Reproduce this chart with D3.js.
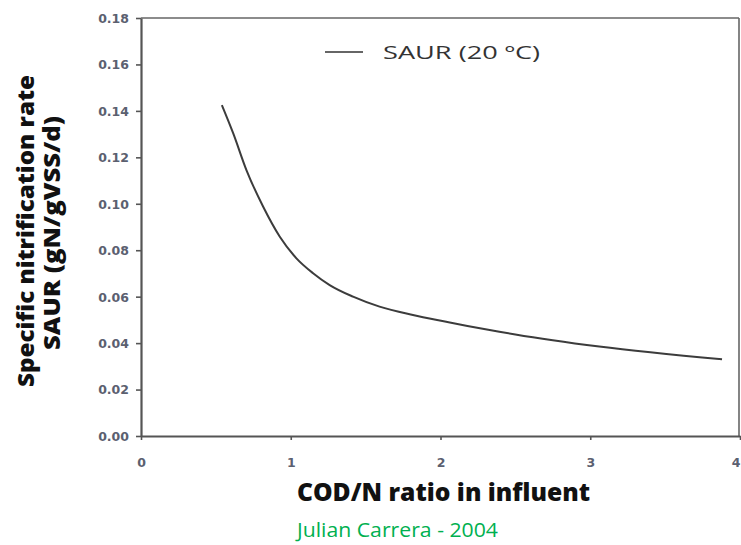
<!DOCTYPE html>
<html><head><meta charset="utf-8">
<script src="https://cdn.jsdelivr.net/npm/d3@7"></script>
<style>body{margin:0;background:#fff}svg{display:block}</style>
</head><body>
<script>
const codN = [0.54, 0.616, 0.704, 0.816, 0.927, 1.038, 1.149, 1.26, 1.416, 1.593, 1.816, 2.038, 2.18, 2.393, 2.50, 3.06, 3.88];
const saur = [0.1425, 0.1303, 0.1145, 0.0987, 0.0858, 0.0765, 0.0701, 0.065, 0.060, 0.0557, 0.0521, 0.0492, 0.0474, 0.0449, 0.0437, 0.0385, 0.033];
const xTicks = [0, 1, 2, 3, 4];
const yTicks = [0, 0.02, 0.04, 0.06, 0.08, 0.10, 0.12, 0.14, 0.16, 0.18];
const seriesName = "SAUR (20 ºC)";
const xTitle = "COD/N ratio in influent";
const yTitle = ["Specific nitrification rate", "SAUR (gN/gVSS/d)"];
const credit = "Julian Carrera - 2004";

const W = 741, H = 545;
const svg = d3.select("body").append("svg").attr("width", W).attr("height", H);
const x = d3.scaleLinear().domain([0, 4]).range([141, 740]);
const y = d3.scaleLinear().domain([0, 0.18]).range([436, 18]);

// frame top/right
svg.append("line").attr("x1", x(0)).attr("x2", 739).attr("y1", y(0.18)).attr("y2", y(0.18))
  .attr("stroke", "#666").attr("stroke-width", 1.6);
svg.append("line").attr("x1", 739).attr("x2", 739).attr("y1", y(0.18)).attr("y2", y(0))
  .attr("stroke", "#666").attr("stroke-width", 1.6);

const xa = svg.append("g").attr("transform", `translate(0,${y(0)})`)
  .call(d3.axisBottom(x).tickValues(xTicks).tickFormat(d3.format("d")).tickSize(4).tickSizeOuter(0));
const ya = svg.append("g").attr("transform", `translate(${x(0)},0)`)
  .call(d3.axisLeft(y).tickValues(yTicks).tickFormat(d3.format(".2f")).tickSize(5).tickSizeOuter(0));
[xa, ya].forEach(a => {
  a.select(".domain").attr("stroke", "#555").attr("stroke-width", 2.2);
  a.selectAll(".tick line").attr("stroke", "#555").attr("stroke-width", 1.6);
  a.selectAll("text").attr("fill", "#5b6070").style("font-family", "'DejaVu Sans', sans-serif")
    .style("font-size", "12.5px").style("font-weight", "bold");
});
xa.selectAll("text").attr("dy", "0").attr("y", 31);
xa.selectAll(".tick").filter(d => d === 4).select("text").attr("text-anchor", "end").attr("dx", 0);
ya.selectAll("text").attr("x", -12).attr("dy", "0.35em");

// curve
svg.append("path").datum(codN.map((c, i) => [c, saur[i]]))
  .attr("fill", "none").attr("stroke", "#3c3c3c").attr("stroke-width", 2)
  .attr("d", d3.line().x(d => x(d[0])).y(d => y(d[1])).curve(d3.curveMonotoneX));

// legend
svg.append("line").attr("x1", 325).attr("x2", 363).attr("y1", 52).attr("y2", 52)
  .attr("stroke", "#666").attr("stroke-width", 2);
svg.append("text").attr("x", 383).attr("y", 59).text(seriesName)
  .attr("fill", "#333").style("font-family", "'Open Sans', sans-serif").style("font-size", "18px")
  .attr("textLength", 157).attr("lengthAdjust", "spacingAndGlyphs");

// x title
svg.append("text").attr("x", 297).attr("y", 501).text(xTitle)
  .attr("fill", "#111").style("font-family", "'Open Sans', sans-serif").style("font-weight", "800")
  .style("font-size", "24px").attr("textLength", 293).attr("lengthAdjust", "spacingAndGlyphs");

// y title
const yt = svg.append("g");
yt.append("text").attr("transform", "translate(34,387) rotate(-90)").text(yTitle[0])
  .attr("fill", "#111").style("font-family", "'Open Sans', sans-serif").style("font-weight", "800")
  .style("font-size", "22px").attr("textLength", 312).attr("lengthAdjust", "spacingAndGlyphs");
yt.append("text").attr("transform", "translate(60,350) rotate(-90)").text(yTitle[1])
  .attr("fill", "#111").style("font-family", "'Open Sans', sans-serif").style("font-weight", "800")
  .style("font-size", "22px").attr("textLength", 234).attr("lengthAdjust", "spacingAndGlyphs");

// credit
svg.append("text").attr("x", 297).attr("y", 537).text(credit)
  .attr("fill", "#00b050").style("font-family", "'Open Sans', sans-serif").style("font-size", "20px")
  .attr("textLength", 201).attr("lengthAdjust", "spacingAndGlyphs");
</script>
</body></html>
